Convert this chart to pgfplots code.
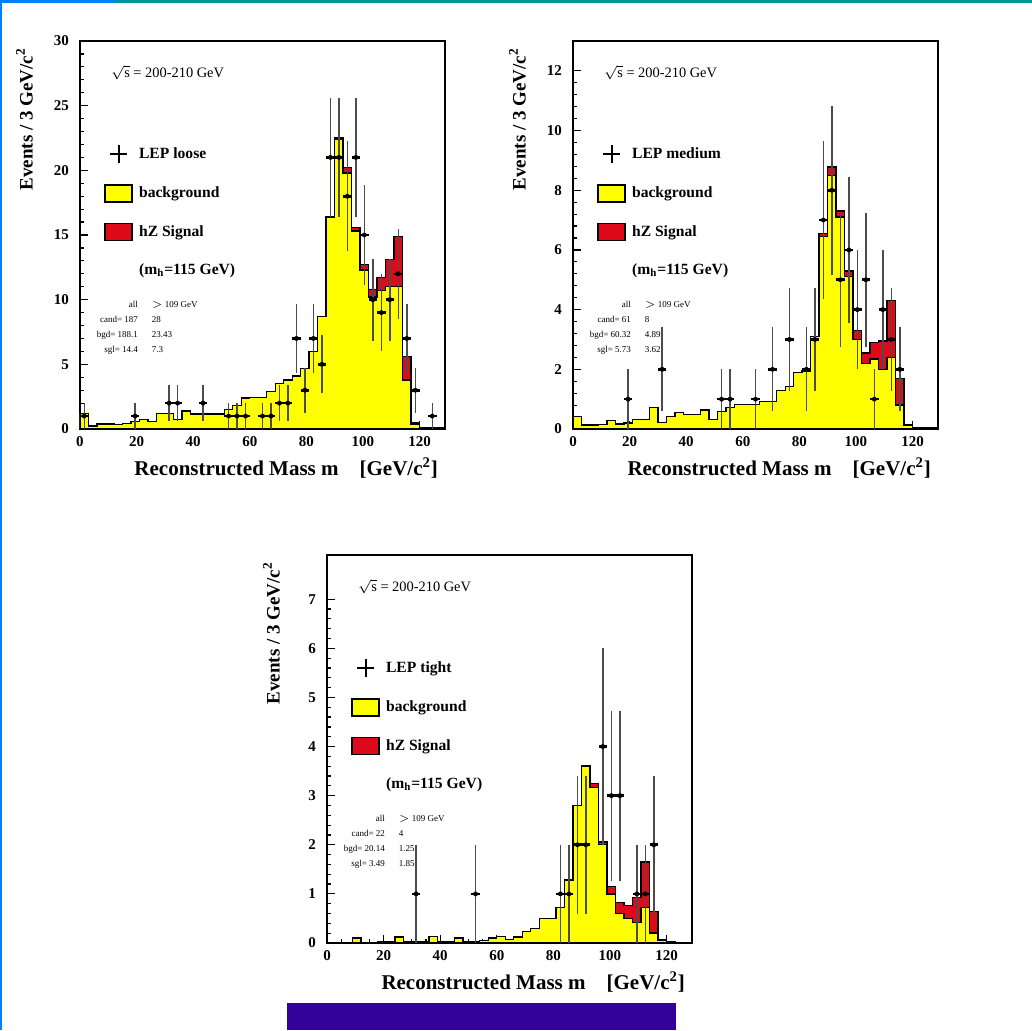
\documentclass[border=0pt]{standalone}
\usepackage{pgfplots}
\pgfplotsset{compat=1.18}
\usepackage{pgfplotstable}
\usepackage{fontspec}
\setmainfont{Liberation Serif}

\definecolor{histyellow}{RGB}{255,255,0}
\definecolor{sigred}{RGB}{222,10,25}
\definecolor{topblue}{RGB}{0,128,255}
\definecolor{topteal}{RGB}{0,150,150}
\definecolor{barpurple}{RGB}{51,0,153}

% ---------------- data ----------------
\pgfplotstableread{
x bg tot
0 1.2 1.2
3 0.23 0.23
6 0.4 0.4
9 0.4 0.4
12 0.33 0.33
15 0.44 0.44
18 0.6 0.6
21 0.75 0.75
24 0.57 0.57
27 1.2 1.2
30 1.2 1.2
33 0.75 0.75
36 1.4 1.4
39 1.15 1.15
42 1.15 1.15
45 1.15 1.15
48 1.15 1.15
51 1.5 1.5
54 1.8 1.8
57 2.4 2.4
60 2.45 2.45
63 2.45 2.45
66 2.9 2.9
69 3.5 3.5
72 3.8 3.8
75 4.1 4.1
78 4.7 4.7
81 6.0 6.0
84 8.7 8.7
87 16.4 16.4
90 22.4 22.5
93 19.8 20.2
96 15.3 15.6
99 12.3 12.7
102 10.2 10.8
105 10.7 11.7
108 11.0 13.1
111 11.0 14.9
114 3.8 5.6
117 0.4 0.45
120 0.1 0.1
123 0.08 0.08
126 0.08 0.08
129 0.08 0.08
}\TLhist
\pgfplotstableread{
m n e
1.5 1 1
19.5 1 1
31.5 2 1.41
34.5 2 1.41
43.5 2 1.41
52.5 1 1
55.5 1 1
58.5 1 1
64.5 1 1
67.5 1 1
70.5 2 1.41
73.5 2 1.41
76.5 7 2.65
79.5 3 1.73
82.5 7 2.65
85.5 5 2.24
88.5 21 4.58
91.5 21 4.58
94.5 18 4.24
97.5 21 4.58
100.5 15 3.87
103.5 10 3.16
106.5 9 3
109.5 10 3.16
112.5 12 3.46
115.5 7 2.65
118.5 3 1.73
124.5 1 1
}\TLdata
\pgfplotstableread{
x bg tot
0 0.41 0.41
3 0.13 0.13
6 0.13 0.13
9 0.16 0.16
12 0.28 0.28
15 0.17 0.17
18 0.2 0.2
21 0.32 0.32
24 0.32 0.32
27 0.73 0.73
30 0.21 0.21
33 0.41 0.41
36 0.55 0.55
39 0.49 0.49
42 0.49 0.49
45 0.64 0.64
48 0.32 0.32
51 0.58 0.58
54 0.73 0.73
57 0.83 0.83
60 0.83 0.83
63 0.83 0.83
66 0.92 0.92
69 0.92 0.92
72 1.3 1.3
75 1.42 1.42
78 1.89 1.89
81 1.95 1.95
84 3.1 3.1
87 6.45 6.55
90 8.5 8.78
93 7.1 7.3
96 5.1 5.3
99 3.0 3.3
102 2.2 2.55
105 2.35 2.9
108 2.0 2.95
111 2.4 4.3
114 0.8 1.7
117 0.13 0.15
120 0.04 0.04
123 0.04 0.04
126 0.04 0.04
129 0.04 0.04
}\TRhist
\pgfplotstableread{
m n e
19.5 1 1
31.5 2 1.41
52.5 1 1
55.5 1 1
64.5 1 1
70.5 2 1.41
76.5 3 1.73
82.5 2 1.41
85.5 3 1.73
88.5 7 2.65
91.5 8 2.83
94.5 5 2.24
97.5 6 2.45
100.5 4 2
103.5 5 2.24
106.5 1 1
109.5 4 2
112.5 3 1.73
115.5 2 1.41
}\TRdata
\pgfplotstableread{
x bg tot
0 0 0
3 0 0
6 0 0
9 0.1 0.1
12 0 0
15 0 0
18 0.03 0.03
21 0.03 0.03
24 0.12 0.12
27 0.03 0.03
30 0.03 0.03
33 0.03 0.03
36 0.13 0.13
39 0.03 0.03
42 0.03 0.03
45 0.1 0.1
48 0.03 0.03
51 0.03 0.03
54 0.05 0.05
57 0.1 0.1
60 0.13 0.13
63 0.07 0.07
66 0.12 0.12
69 0.24 0.24
72 0.3 0.3
75 0.5 0.5
78 0.5 0.5
81 0.72 0.72
84 1.28 1.28
87 2.8 2.8
90 3.6 3.62
93 3.17 3.25
96 2.0 2.06
99 1.0 1.15
102 0.6 0.82
105 0.5 0.76
108 0.42 0.93
111 0.72 1.65
114 0.2 0.64
117 0.05 0.07
120 0.02 0.02
123 0 0
126 0 0
129 0 0
}\BThist
\pgfplotstableread{
m n e
31.5 1 1
52.5 1 1
82.5 1 1
85.5 1 1
88.5 2 1.41
91.5 2 1.41
97.5 4 2
100.5 3 1.73
103.5 3 1.73
109.5 1 1
112.5 1 1
115.5 2 1.41
}\BTdata

% ---------------- styles ----------------
\pgfplotsset{
  lepaxis/.style={
    scale only axis, width=182.5pt, height=194pt,
    anchor=south west,
    xmin=0, xmax=129, ymin=0,
    axis line style={line width=1pt},
    tick align=inside, xtick pos=left, ytick pos=left,
    major tick length=4pt, minor tick length=2pt,
    every tick/.style={black, line width=0.6pt},
    xtick={0,20,...,120}, minor x tick num=3,
    minor y tick num=4,
    /pgf/number format/assume math mode=true,
    ticklabel style={font=\fontsize{7.5}{8}\selectfont\bfseries},
    yticklabel style={xshift=-2pt},
    xlabel={Reconstructed Mass m \ \ \ [GeV/c\textsuperscript{2}]},
    ylabel={Events / 3 GeV/c\textsuperscript{2}},
    xlabel style={at={(rel axis cs:1,0)}, anchor=base east, yshift=-23pt,
      font=\fontsize{10.5}{12}\selectfont\bfseries},
    ylabel style={at={(rel axis cs:-0.13,1)}, anchor=base east,
      font=\fontsize{9.5}{11}\selectfont\bfseries},
    legend style={draw=none, fill=none, at={(rel axis cs:0.066,0.735)},
      anchor=north west, inner sep=0pt, row sep=9.5pt,
      font=\fontsize{7.8}{9}\selectfont\bfseries,
      nodes={inner sep=1.5pt},
      /tikz/every odd column/.append style={column sep=1.5pt}},
    legend cell align=left,
  },
  histbg/.style={const plot, fill=histyellow, draw=black, line width=0.7pt, forget plot},
  histsig/.style={const plot, fill=sigred, draw=black, line width=0.7pt, forget plot},
  vbars/.style={forget plot, draw=none, mark=none,
    error bars/.cd, y dir=both, y explicit, error mark=none,
    error bar style={draw=black!70, line width=0.7pt}},
  hbars/.style={forget plot, draw=none, mark=-, mark size=2.12pt,
    mark options={draw=black, line width=1.3pt}},
  dots/.style={forget plot, draw=none, mark=*, mark size=1.1pt,
    mark options={draw=black, fill=black, line width=0.2pt}},
}

\newcommand{\lepleg}[1]{%
  \addlegendimage{legend image code/.code={
    \draw[line width=1.1pt] (2.5pt,0pt) -- (11pt,0pt);
    \draw[line width=1.1pt] (6.75pt,-4.5pt) -- (6.75pt,4.5pt);}}
  \addlegendentry{LEP #1}
  \addlegendimage{legend image code/.code={
    \draw[fill=histyellow, line width=0.8pt] (0pt,-4.25pt) rectangle (13.5pt,4.25pt);}}
  \addlegendentry{background}
  \addlegendimage{legend image code/.code={
    \draw[fill=sigred, line width=0.8pt] (0pt,-4.25pt) rectangle (13.5pt,4.25pt);}}
  \addlegendentry{hZ Signal}
  \addlegendimage{empty legend}
  \addlegendentry{(m\textsubscript{h}=115 GeV)}
}
\newcommand{\sqrts}{%
  \node[anchor=west, font=\fontsize{7.2}{8}\selectfont] at (rel axis cs:0.066,0.918)
    {$\sqrt{\mathrm{s}}$ = 200-210 GeV};}
\newcommand{\stats}[6]{%
  \node[anchor=north west, inner sep=0pt, font=\fontsize{4.5}{7.5}\selectfont]
    at (rel axis cs:0.045,0.342)
    {\begin{tabular}{@{}r@{\hspace{7pt}}l@{}}
      all & $>$ 109 GeV\\ cand= #1 & #2\\ bgd= #3 & #4\\ sgl= #5 & #6
     \end{tabular}};}
\newcommand{\datapts}[1]{%
  \addplot[vbars] table[x=m,y=n,y error=e] {#1};
  \addplot[hbars] table[x=m,y=n] {#1};
  \addplot[dots] table[x=m,y=n] {#1};}

\begin{document}
\begin{tikzpicture}
\path[use as bounding box] (0pt,0pt) rectangle (516pt,515pt);
\fill[white] (0pt,0pt) rectangle (516pt,515pt);
\fill[topteal] (57.5pt,513.5pt) rectangle (516pt,515pt);
\fill[topblue] (0pt,513.5pt) rectangle (57.5pt,515pt);
\fill[topblue] (0pt,0pt) rectangle (1pt,515pt);
\fill[barpurple] (143.5pt,0pt) rectangle (338pt,13.5pt);

% ---- top left: loose ----
\begin{axis}[lepaxis, at={(40pt,300.5pt)}, ymax=30, ytick={0,5,...,30}]
  \lepleg{loose}
  \addplot[histsig] table[x=x,y=tot] {\TLhist} \closedcycle;
  \addplot[histbg] table[x=x,y=bg] {\TLhist} \closedcycle;
  \datapts{\TLdata}
  \sqrts
  \stats{187}{28}{188.1}{23.43}{14.4}{7.3}
\end{axis}

% ---- top right: medium ----
\begin{axis}[lepaxis, at={(286.5pt,300.5pt)}, ymax=13, ytick={0,2,...,12}]
  \lepleg{medium}
  \addplot[histsig] table[x=x,y=tot] {\TRhist} \closedcycle;
  \addplot[histbg] table[x=x,y=bg] {\TRhist} \closedcycle;
  \datapts{\TRdata}
  \sqrts
  \stats{61}{8}{60.32}{4.89}{5.73}{3.62}
\end{axis}

% ---- bottom: tight ----
\begin{axis}[lepaxis, at={(163.5pt,43.5pt)}, ymax=7.9, ytick={0,1,...,7}]
  \lepleg{tight}
  \addplot[histsig] table[x=x,y=tot] {\BThist} \closedcycle;
  \addplot[histbg] table[x=x,y=bg] {\BThist} \closedcycle;
  \datapts{\BTdata}
  \sqrts
  \stats{22}{4}{20.14}{1.25}{3.49}{1.85}
\end{axis}
\end{tikzpicture}
\end{document}
